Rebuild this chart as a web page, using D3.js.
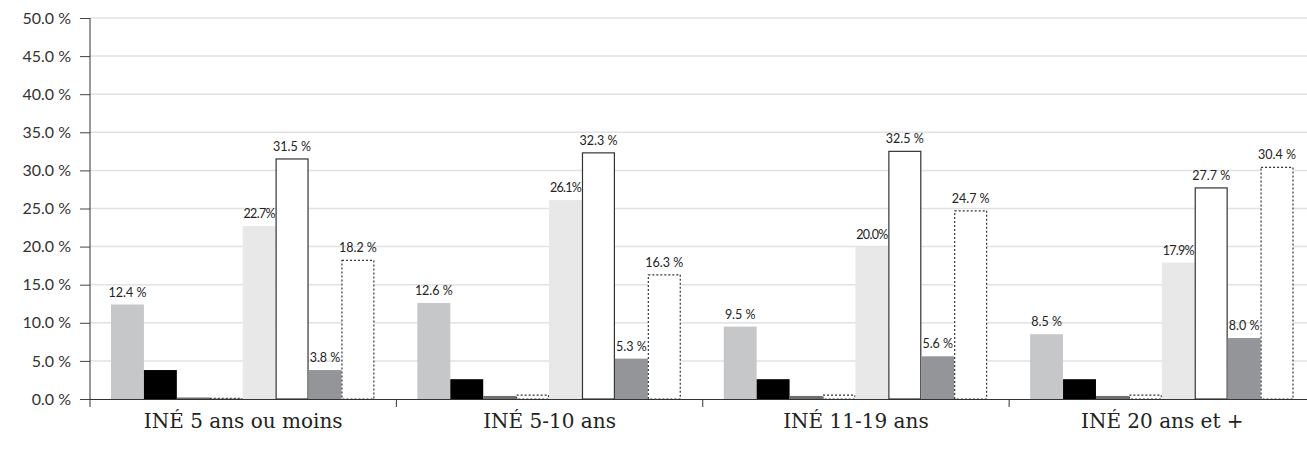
<!DOCTYPE html>
<html><head><meta charset="utf-8">
<script src="https://cdn.jsdelivr.net/npm/d3@7"></script>
<style>body{margin:0;background:#fff}svg{display:block}</style>
</head><body>
<svg id="c" width="1307" height="450"></svg>
<script>
const categories = ["INÉ 5 ans ou moins", "INÉ 5-10 ans", "INÉ 11-19 ans", "INÉ 20 ans et +"];
const seriesNames = ["s1","s2","s3","s4","s5","s6","s7","s8"];
const s1 = [12.4, 12.6, 9.5, 8.5];
const s2 = [3.8, 2.6, 2.6, 2.6];
const s3 = [0.2, 0.4, 0.4, 0.4];
const s4 = [0.1, 0.5, 0.5, 0.5];
const s5 = [22.7, 26.1, 20.0, 17.9];
const s6 = [31.5, 32.3, 32.5, 27.7];
const s7 = [3.8, 5.3, 5.6, 8.0];
const s8 = [18.2, 16.3, 24.7, 30.4];
const yTicks = [0,5,10,15,20,25,30,35,40,45,50];
const series = [s1,s2,s3,s4,s5,s6,s7,s8];
const showLabel = [true,false,false,false,true,true,true,true];
const tightLabel = [false,false,false,false,true,false,false,false];
const fills = ["#c6c7c9","#000000","#6d6e70","#ffffff","#e8e8e8","#ffffff","#939598","#ffffff"];
const strokes = [null,null,null,"#333",null,"#333",null,"#333"];
const dashes = [null,null,null,"2,2",null,null,null,"2,2"];

const svg = d3.select("#c");
const mLeft = 90, mTop = 18, mBottom = 399, mRight = 1315.5;
const y = d3.scaleLinear().domain([0,50]).range([mBottom, mTop]);
const x0 = d3.scaleBand().domain(categories).range([mLeft, mRight]).padding(0);
const x1 = d3.scaleBand().domain(seriesNames).range([21, x0.bandwidth()-22]).padding(0);

// gridlines
svg.append("g").selectAll("line").data(yTicks.filter(d=>d>0)).join("line")
  .attr("x1", mLeft).attr("x2", 1307).attr("y1", d=>y(d)).attr("y2", d=>y(d))
  .attr("stroke", "#e2e2e2").attr("stroke-width", 1.5);

// bars
const g = svg.append("g");
categories.forEach((cat, ci) => {
  series.forEach((s, si) => {
    const v = s[ci];
    const bx = x0(cat) + x1(seriesNames[si]);
    const hasStroke = !!strokes[si];
    const r = g.append("rect")
      .attr("x", bx + (hasStroke ? 0.5 : 0))
      .attr("y", y(v))
      .attr("width", x1.bandwidth() - (hasStroke ? 1 : 0))
      .attr("height", y(0) - y(v))
      .attr("fill", fills[si]);
    if (hasStroke) {
      r.attr("stroke", strokes[si]).attr("stroke-width", 1.2);
      if (dashes[si]) r.attr("stroke-dasharray", dashes[si]);
    }
    if (showLabel[si]) {
      g.append("text")
        .attr("x", bx + x1.bandwidth()/2)
        .attr("y", y(v) - 8)
        .attr("text-anchor", "middle")
        .attr("font-family", "Lato, sans-serif")
        .attr("font-size", 12.5)
        .attr("letter-spacing", tightLabel[si] ? "-0.7px" : "0")
        .attr("fill", "#222")
        .text(v.toFixed(1) + (tightLabel[si] ? "%" : " %"));
    }
  });
});

// y axis
const yAxis = d3.axisLeft(y).tickValues(yTicks).tickSize(10).tickPadding(9)
  .tickFormat(d => d.toFixed(1) + " %");
const ya = svg.append("g").attr("transform", `translate(${mLeft},0)`).call(yAxis);
ya.select(".domain").remove();
ya.selectAll(".tick line").attr("stroke", "#444");
ya.selectAll("text").attr("font-family", "Lato, sans-serif").attr("font-size", 16).attr("fill", "#333");
svg.append("line").attr("x1", mLeft).attr("x2", mLeft).attr("y1", mTop).attr("y2", mBottom + 8)
  .attr("stroke", "#333").attr("stroke-width", 1);

// x axis
svg.append("line").attr("x1", mLeft).attr("x2", 1307).attr("y1", mBottom+0.5).attr("y2", mBottom+0.5)
  .attr("stroke", "#333").attr("stroke-width", 1);
svg.append("g").selectAll("line").data(categories.slice(1)).join("line")
  .attr("x1", d=>x0(d)).attr("x2", d=>x0(d)).attr("y1", mBottom).attr("y2", mBottom+8)
  .attr("stroke", "#333");
svg.append("g").selectAll("text").data(categories).join("text")
  .attr("x", d => x0(d) + x0.bandwidth()/2)
  .attr("y", mBottom + 29)
  .attr("text-anchor", "middle")
  .attr("font-family", "'DejaVu Serif', serif")
  .attr("font-size", 20)
  .attr("fill", "#222")
  .text(d => d);
</script>
</body></html>
